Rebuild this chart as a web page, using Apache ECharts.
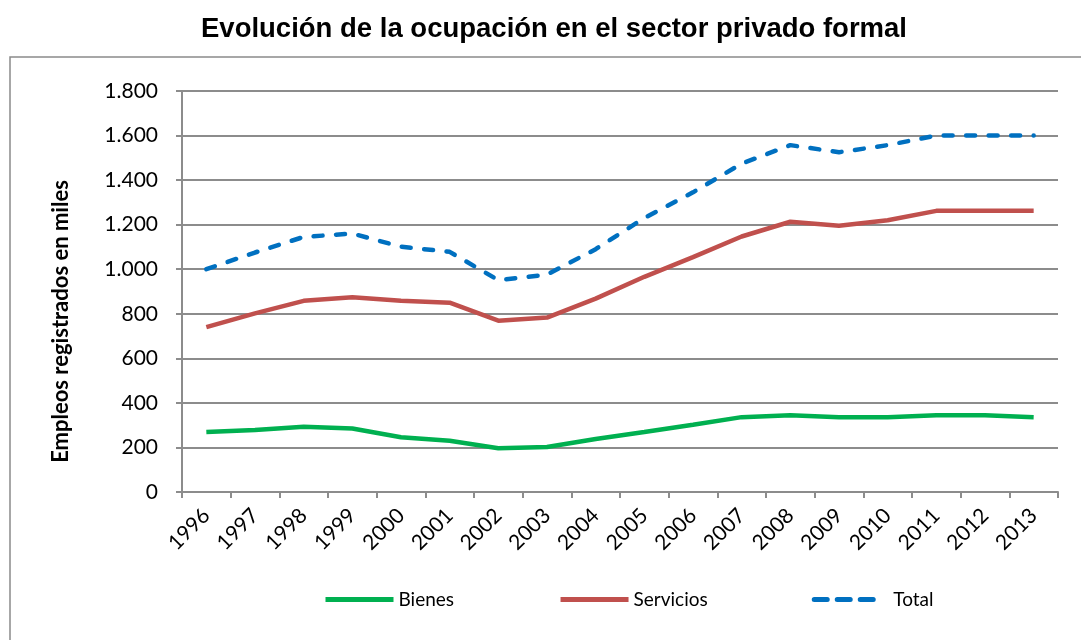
<!DOCTYPE html>
<html>
<head>
<meta charset="utf-8">
<script src="https://cdn.jsdelivr.net/npm/echarts@6/dist/echarts.min.js"></script>
<style>
  html, body { margin: 0; padding: 0; background: #fff; }
  #chart { width: 1081px; height: 640px; }
</style>
</head>
<body>
<div id="chart"></div>
<script>
// datos
const years = ['1996', '1997', '1998', '1999', '2000', '2001', '2002', '2003', '2004',
  '2005', '2006', '2007', '2008', '2009', '2010', '2011', '2012', '2013'];
const bienes = [269, 278, 293, 285, 246, 230, 196, 202, 238, 269, 302, 336, 344, 336, 336, 344, 344, 336];
const servicios = [740, 802, 858, 874, 859, 850, 769, 783, 868, 966, 1054, 1147, 1213, 1195, 1220, 1262, 1262, 1262];
const total = [1000, 1075, 1145, 1160, 1101, 1078, 951, 976, 1090, 1230, 1345, 1474, 1557, 1525, 1557, 1600, 1600, 1600];

const chart = echarts.init(document.getElementById('chart'));
const labelFont = 'Lato, "Open Sans", sans-serif';
const gridColor = '#8c8c8c';

chart.setOption({
  animation: false,
  title: {
    text: 'Evolución de la ocupación en el sector privado formal',
    left: 196,
    top: 10,
    textStyle: { fontFamily: '"Liberation Sans", Arial, sans-serif', fontSize: 27.5, fontWeight: 'bold', color: '#000' }
  },
  graphic: [{
    type: 'rect',
    shape: { x: 10, y: 57, width: 1100, height: 620 },
    style: { fill: 'none', stroke: '#8a8a8a', lineWidth: 1.5 },
    silent: true
  }],
  legend: {
    bottom: 26,
    left: 318,
    itemWidth: 68,
    itemHeight: 12,
    itemGap: 104,
    itemStyle: { opacity: 0 },
    lineStyle: { width: 5 },
    textStyle: { fontFamily: labelFont, fontSize: 19, color: '#000' },
    data: [
      'Bienes',
      'Servicios',
      { name: 'Total', lineStyle: { type: [13, 10], cap: 'round', width: 5 }, textStyle: { padding: [0, 0, 0, 6] } }
    ]
  },
  grid: { left: 182, right: 23, top: 91, bottom: 148 },
  xAxis: {
    type: 'category',
    data: years,
    boundaryGap: true,
    axisLine: { lineStyle: { color: gridColor, width: 2 } },
    axisTick: { show: true, length: 6, lineStyle: { color: gridColor, width: 2 } },
    axisLabel: { rotate: 45, margin: 20, fontFamily: labelFont, fontSize: 21, color: '#000' }
  },
  yAxis: {
    type: 'value',
    min: 0,
    max: 1800,
    interval: 200,
    name: 'Empleos registrados en miles',
    nameLocation: 'middle',
    nameGap: 110,
    nameTextStyle: { fontFamily: labelFont, fontSize: 22, fontWeight: 'bold', color: '#000', padding: [0, 60, 0, 0] },
    axisLine: { show: true, lineStyle: { color: gridColor, width: 2 } },
    axisTick: { show: true, length: 6, lineStyle: { color: gridColor, width: 2 } },
    splitLine: { lineStyle: { color: gridColor, width: 2 } },
    axisLabel: {
      margin: 24,
      fontFamily: labelFont,
      fontSize: 21,
      color: '#000',
      formatter: v => String(v).replace(/\B(?=(\d{3})+(?!\d))/g, '.')
    }
  },
  series: [
    {
      name: 'Bienes', type: 'line', data: bienes, symbol: 'none',
      itemStyle: { color: '#00B050' },
      lineStyle: { color: '#00B050', width: 4.5 }
    },
    {
      name: 'Servicios', type: 'line', data: servicios, symbol: 'none',
      itemStyle: { color: '#C0504D' },
      lineStyle: { color: '#C0504D', width: 4.5 }
    },
    {
      name: 'Total', type: 'line', data: total, symbol: 'none',
      itemStyle: { color: '#0070C0' },
      lineStyle: { color: '#0070C0', width: 4.5, type: [9, 13.5], cap: 'round' }
    }
  ]
});
</script>
</body>
</html>
